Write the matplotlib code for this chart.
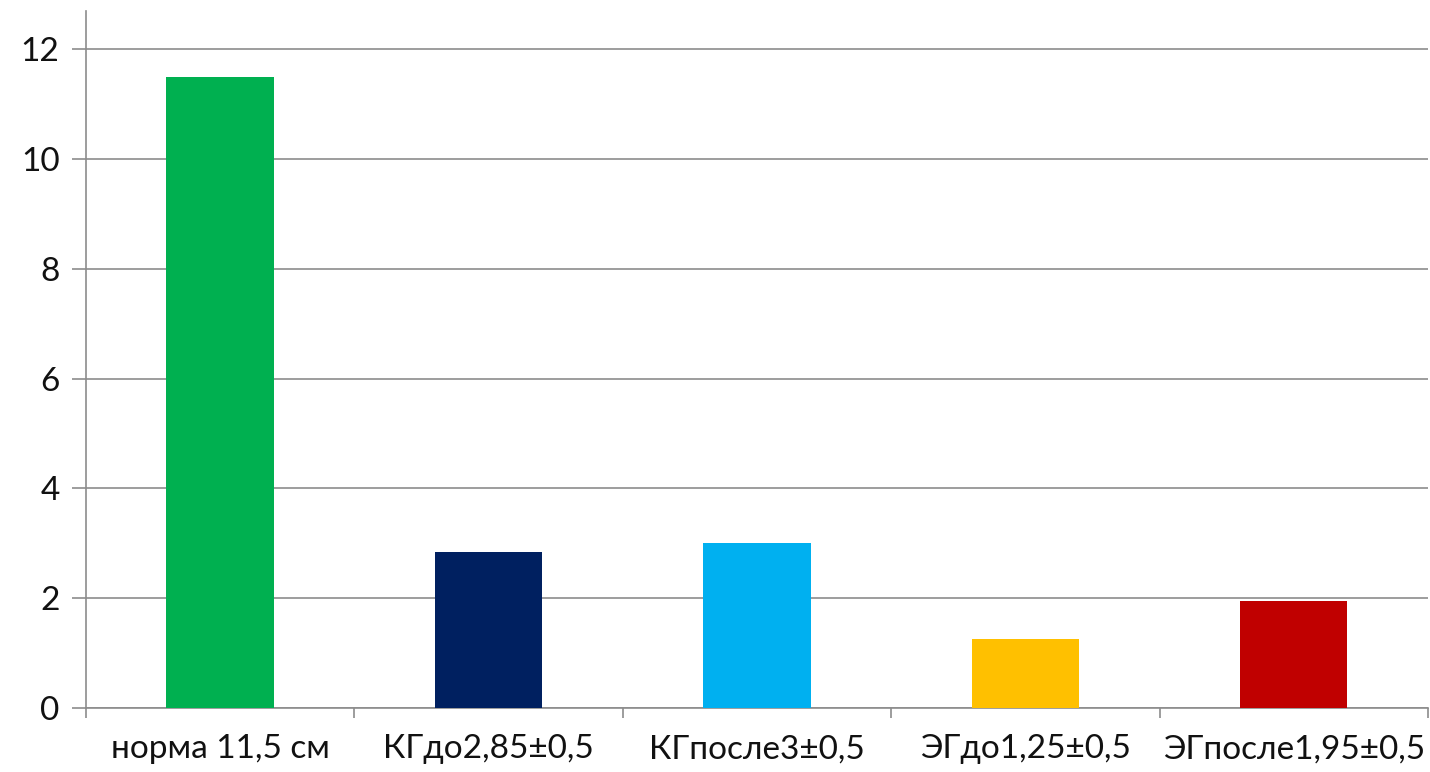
import numpy as np
import matplotlib.pyplot as plt

labels = ['норма 11,5 см', 'КГдо2,85±0,5', 'КГпосле3±0,5', 'ЭГдо1,25±0,5', 'ЭГпосле1,95±0,5']
values = [11.5, 2.85, 3.0, 1.25, 1.95]
colors = ['#00B050', '#002060', '#00B0F0', '#FFC000', '#C00000']
yticks = [0, 2, 4, 6, 8, 10, 12]

plt.rcParams['font.family'] = ['Lato', 'DejaVu Sans']

fig = plt.figure(figsize=(14.3, 7.72), dpi=100)
ax = fig.add_axes([0.0601, 0.0829, 0.9385, 0.9029])

x = np.arange(len(labels))
ax.bar(x, values, width=0.4, color=colors, zorder=3)

ax.set_xlim(-0.5, len(labels) - 0.5)
ax.set_ylim(0, 12.7)
ax.set_yticks(yticks)
ax.set_yticklabels([str(t) for t in yticks], fontsize=24, color='#111111')
ax.yaxis.grid(True, color='#8c8c8c', linewidth=1.2, zorder=0)
ax.tick_params(axis='y', length=10, width=1.2, color='#8c8c8c', pad=9)

ax.set_xticks(x)
ax.set_xticklabels(labels, fontsize=24, color='#111111')
ax.set_xticks(np.arange(len(labels) + 1) - 0.5, minor=True)
ax.tick_params(axis='x', which='major', length=0, pad=19)
ax.tick_params(axis='x', which='minor', length=7, width=1.2, color='#8c8c8c')

for s in ['top', 'right']:
    ax.spines[s].set_visible(False)
for s in ['left', 'bottom']:
    ax.spines[s].set_color('#8c8c8c')
    ax.spines[s].set_linewidth(1.2)

fig.savefig('out.png', dpi=100)
